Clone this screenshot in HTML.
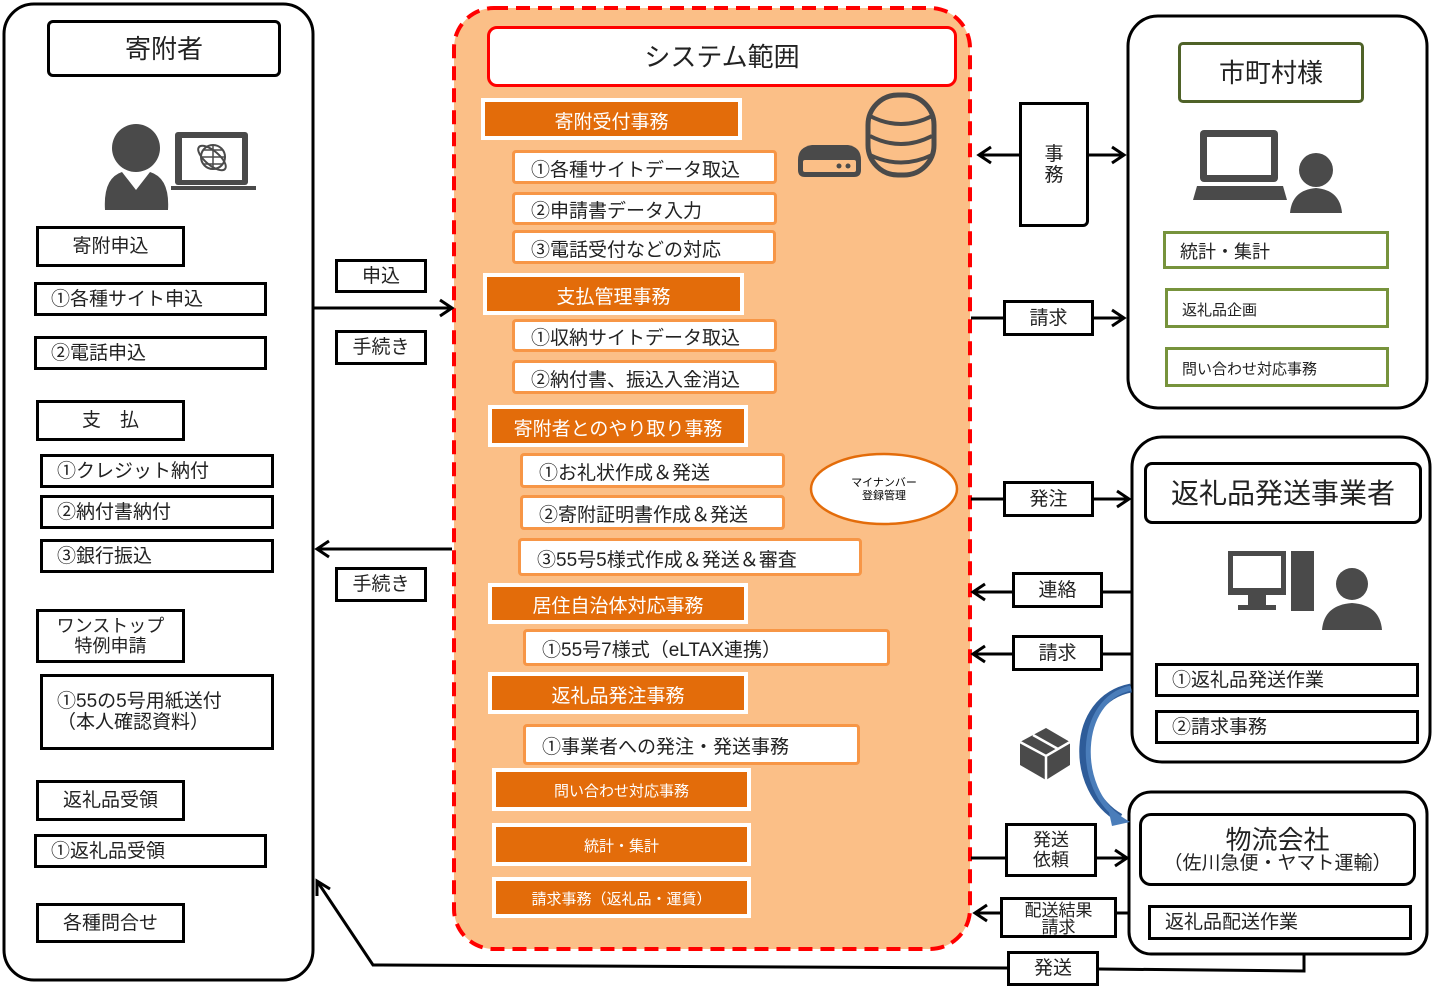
<!DOCTYPE html>
<html><head><meta charset="utf-8">
<style>
body{margin:0;width:1433px;height:994px;background:#fff;position:relative;overflow:hidden;font-family:"Liberation Sans","Noto Sans CJK JP",sans-serif;color:#222}
.b{position:absolute;box-sizing:border-box;border:3px solid #000;background:#fff;display:flex;align-items:center;justify-content:center;font-size:19px;line-height:1.1;text-align:center;padding-top:2px}
.lf{justify-content:flex-start;padding-left:14px}
.h{position:absolute;box-sizing:border-box;background:#E36C0A;color:#fff;border:4px solid #fff;display:flex;align-items:center;justify-content:center;font-size:19px;padding-top:2px}
.s{position:absolute;box-sizing:border-box;background:#fff;border:3px solid #F79646;border-radius:4px;display:flex;align-items:center;padding-left:16px;font-size:19px;padding-top:2px}
.g{position:absolute;box-sizing:border-box;background:#fff;border:3px solid #77933C;display:flex;align-items:center;padding-left:14px;font-size:18px;padding-top:2px}
svg{position:absolute;left:0;top:0}
</style></head><body>
<svg width="1433" height="994">
<rect x="4" y="4" width="309" height="976" rx="30" fill="#fff" stroke="#000" stroke-width="3"/>
<rect x="454" y="8" width="516" height="941" rx="40" fill="#FBBF87" stroke="#f00" stroke-width="4" stroke-dasharray="14,8"/>
<rect x="1128" y="16" width="299" height="392" rx="30" fill="#fff" stroke="#000" stroke-width="3"/>
<rect x="1132" y="437" width="298" height="325" rx="30" fill="#fff" stroke="#000" stroke-width="3"/>
<rect x="1129" y="792" width="298" height="162" rx="22" fill="#fff" stroke="#000" stroke-width="3"/>
<g stroke="#000" stroke-width="3" fill="none">
<line x1="314" y1="308" x2="452" y2="308"/><polyline points="440,300 452,308 440,316"/>
<line x1="452" y1="549" x2="317" y2="549"/><polyline points="329,541 317,549 329,557"/>
<line x1="1019" y1="155" x2="979" y2="155"/><polyline points="991,147 979,155 991,163"/>
<line x1="1089" y1="155" x2="1124" y2="155"/><polyline points="1112,147 1124,155 1112,163"/>
<line x1="971" y1="318" x2="1124" y2="318"/><polyline points="1112,310 1124,318 1112,326"/>
<line x1="971" y1="499" x2="1129" y2="499"/><polyline points="1117,491 1129,499 1117,507"/>
<line x1="1131" y1="592" x2="973" y2="592"/><polyline points="985,584 973,592 985,600"/>
<line x1="1131" y1="654" x2="973" y2="654"/><polyline points="985,646 973,654 985,662"/>
<line x1="971" y1="858" x2="1127" y2="858"/><polyline points="1115,850 1127,858 1115,866"/>
<line x1="1128" y1="913" x2="975" y2="913"/><polyline points="987,905 975,913 987,921"/>
<polyline points="1304,955 1304,971 1099,969"/>
<polyline points="1007,968 373,965 317,881"/><polyline points="317,896 317,881 330,889"/>
</g>
<path d="M1131,688 C1070,700 1070,790 1120,818" stroke="#2E5C99" stroke-width="9" fill="none"/>
<path d="M1131,688 C1076,700 1076,790 1120,818" stroke="#4A7DBA" stroke-width="5" fill="none"/>
<polygon points="1108,808 1130,822 1112,826" fill="#4A7DBA"/>
<g fill="#4a4a4a">
<circle cx="136" cy="148" r="24"/>
<path d="M105,210 Q103,178 122,172 L136,190 L150,172 Q170,178 168,210 Z"/>
<rect x="175" y="132" width="73" height="53" rx="3"/>
<rect x="182" y="138" width="60" height="42" fill="#fff"/>
<rect x="171" y="186" width="85" height="4"/>
<circle cx="213" cy="157" r="12" fill="none" stroke="#4a4a4a" stroke-width="2"/>
<path d="M201,157 H225 M213,145 V169 M204,150 H222 M204,164 H222" stroke="#4a4a4a" stroke-width="1.5" fill="none"/>
<ellipse cx="212" cy="158" rx="17" ry="7" transform="rotate(40 212 158)" fill="none" stroke="#4a4a4a" stroke-width="2"/>
<rect x="868" y="95" width="66" height="80" rx="30" fill="none" stroke="#4a4a4a" stroke-width="5"/>
<path d="M870,116 Q901,132 932,116 M870,136 Q901,152 932,136 M870,155 Q901,170 932,155" stroke="#4a4a4a" stroke-width="4" fill="none"/>
<path d="M798,160 Q798,147 812,145 L848,145 Q861,147 861,160 L861,170 Q861,177 854,177 L805,177 Q798,177 798,170Z"/>
<rect x="803" y="160" width="53" height="12" rx="2" fill="#FBBF87"/>
<circle cx="839" cy="166" r="2.5"/><circle cx="848" cy="166" r="2.5"/>
<rect x="1200" y="130" width="78" height="52" rx="4"/><rect x="1207" y="137" width="64" height="38" fill="#fff"/>
<path d="M1197,186 L1283,186 L1287,200 L1193,200Z"/>
<circle cx="1316" cy="170" r="17"/><path d="M1290,213 Q1292,190 1316,188 Q1340,190 1342,213Z"/>
<rect x="1228" y="551" width="58" height="44"/><rect x="1233" y="556" width="48" height="32" fill="#fff"/>
<rect x="1248" y="595" width="18" height="10"/><rect x="1238" y="605" width="38" height="5"/>
<rect x="1291" y="551" width="23" height="60"/>
<circle cx="1352" cy="584" r="16"/><path d="M1322,630 Q1324,605 1352,603 Q1380,605 1382,630Z"/>
<path d="M1020,742 L1046,728 L1070,742 L1070,765 L1046,780 L1020,765Z"/>
<path d="M1020,742 L1046,756 L1070,742 M1046,756 V780 M1033,735 L1058,749" stroke="#fff" stroke-width="2.5" fill="none"/>
</g>
<ellipse cx="884" cy="489" rx="73" ry="35" fill="#fff" stroke="#E36C0A" stroke-width="2.5"/>
<text x="884" y="486" font-size="11" text-anchor="middle" font-family="Liberation Sans,Noto Sans CJK JP,sans-serif">マイナンバー</text>
<text x="884" y="499" font-size="11" text-anchor="middle" font-family="Liberation Sans,Noto Sans CJK JP,sans-serif">登録管理</text>
</svg>

<div class="b" style="left:47px;top:20px;width:234px;height:57px;border-radius:6px;font-size:26px">寄附者</div>
<div class="b" style="left:36px;top:226px;width:149px;height:41px">寄附申込</div>
<div class="b lf" style="left:34px;top:282px;width:233px;height:34px">①各種サイト申込</div>
<div class="b lf" style="left:34px;top:336px;width:233px;height:34px">②電話申込</div>
<div class="b" style="left:36px;top:400px;width:149px;height:41px">支　払</div>
<div class="b lf" style="left:40px;top:454px;width:234px;height:34px">①クレジット納付</div>
<div class="b lf" style="left:40px;top:495px;width:234px;height:34px">②納付書納付</div>
<div class="b lf" style="left:40px;top:539px;width:234px;height:34px">③銀行振込</div>
<div class="b" style="left:36px;top:609px;width:149px;height:54px;font-size:18px">ワンストップ<br>特例申請</div>
<div class="b" style="left:40px;top:674px;width:234px;height:76px;justify-content:flex-start;padding-left:14px;text-align:left">①55の5号用紙送付<br>（本人確認資料）</div>
<div class="b" style="left:36px;top:780px;width:149px;height:41px">返礼品受領</div>
<div class="b lf" style="left:34px;top:834px;width:233px;height:34px">①返礼品受領</div>
<div class="b" style="left:36px;top:903px;width:149px;height:40px">各種問合せ</div>

<div class="b" style="left:335px;top:259px;width:92px;height:34px">申込</div>
<div class="b" style="left:335px;top:330px;width:92px;height:35px">手続き</div>
<div class="b" style="left:335px;top:567px;width:92px;height:35px">手続き</div>

<div class="b" style="left:487px;top:26px;width:470px;height:61px;border-color:#f00;border-radius:10px;font-size:26px">システム範囲</div>
<div class="h" style="left:481px;top:98px;width:261px;height:42px">寄附受付事務</div>
<div class="s" style="left:512px;top:150px;width:265px;height:34px">①各種サイトデータ取込</div>
<div class="s" style="left:512px;top:192px;width:265px;height:33px">②申請書データ入力</div>
<div class="s" style="left:512px;top:230px;width:264px;height:34px">③電話受付などの対応</div>
<div class="h" style="left:483px;top:273px;width:261px;height:42px">支払管理事務</div>
<div class="s" style="left:512px;top:319px;width:265px;height:33px">①収納サイトデータ取込</div>
<div class="s" style="left:512px;top:360px;width:265px;height:34px">②納付書、振込入金消込</div>
<div class="h" style="left:488px;top:405px;width:260px;height:42px">寄附者とのやり取り事務</div>
<div class="s" style="left:520px;top:453px;width:265px;height:35px">①お礼状作成＆発送</div>
<div class="s" style="left:520px;top:495px;width:265px;height:35px">②寄附証明書作成＆発送</div>
<div class="s" style="left:518px;top:538px;width:344px;height:38px">③55号5様式作成＆発送＆審査</div>
<div class="h" style="left:488px;top:583px;width:260px;height:41px">居住自治体対応事務</div>
<div class="s" style="left:523px;top:629px;width:367px;height:37px">①55号7様式（eLTAX連携）</div>
<div class="h" style="left:488px;top:672px;width:260px;height:42px">返礼品発注事務</div>
<div class="s" style="left:523px;top:724px;width:337px;height:41px">①事業者への発注・発送事務</div>
<div class="h" style="left:492px;top:768px;width:259px;height:43px;font-size:15px">問い合わせ対応事務</div>
<div class="h" style="left:492px;top:823px;width:259px;height:43px;font-size:15px">統計・集計</div>
<div class="h" style="left:492px;top:877px;width:259px;height:41px;font-size:15px">請求事務（返礼品・運賃）</div>

<div class="b" style="left:1019px;top:102px;width:70px;height:125px;border-radius:0 0 6px 0">事<br>務</div>
<div class="b" style="left:1003px;top:300px;width:91px;height:36px">請求</div>
<div class="b" style="left:1003px;top:481px;width:91px;height:36px">発注</div>
<div class="b" style="left:1012px;top:572px;width:91px;height:36px">連絡</div>
<div class="b" style="left:1012px;top:635px;width:91px;height:36px">請求</div>
<div class="b" style="left:1005px;top:823px;width:92px;height:54px;font-size:18px">発送<br>依頼</div>
<div class="b" style="left:1000px;top:897px;width:117px;height:41px;font-size:17px;line-height:1">配送結果<br>請求</div>
<div class="b" style="left:1007px;top:951px;width:92px;height:35px">発送</div>

<div class="b" style="left:1178px;top:42px;width:186px;height:61px;border-color:#4F6228;border-radius:5px;font-size:26px">市町村様</div>
<div class="g" style="left:1163px;top:231px;width:226px;height:38px">統計・集計</div>
<div class="g" style="left:1165px;top:288px;width:224px;height:40px;font-size:15px">返礼品企画</div>
<div class="g" style="left:1165px;top:347px;width:224px;height:40px;font-size:15px">問い合わせ対応事務</div>

<div class="b" style="left:1144px;top:462px;width:278px;height:62px;border-radius:8px;font-size:28px">返礼品発送事業者</div>
<div class="b lf" style="left:1155px;top:663px;width:264px;height:34px">①返礼品発送作業</div>
<div class="b lf" style="left:1155px;top:710px;width:264px;height:34px">②請求事務</div>

<div class="b" style="left:1139px;top:813px;width:277px;height:73px;border-radius:12px;font-size:26px;flex-direction:column">物流会社<span style="font-size:19px">（佐川急便・ヤマト運輸）</span></div>
<div class="b lf" style="left:1148px;top:905px;width:264px;height:35px">返礼品配送作業</div>
</body></html>
